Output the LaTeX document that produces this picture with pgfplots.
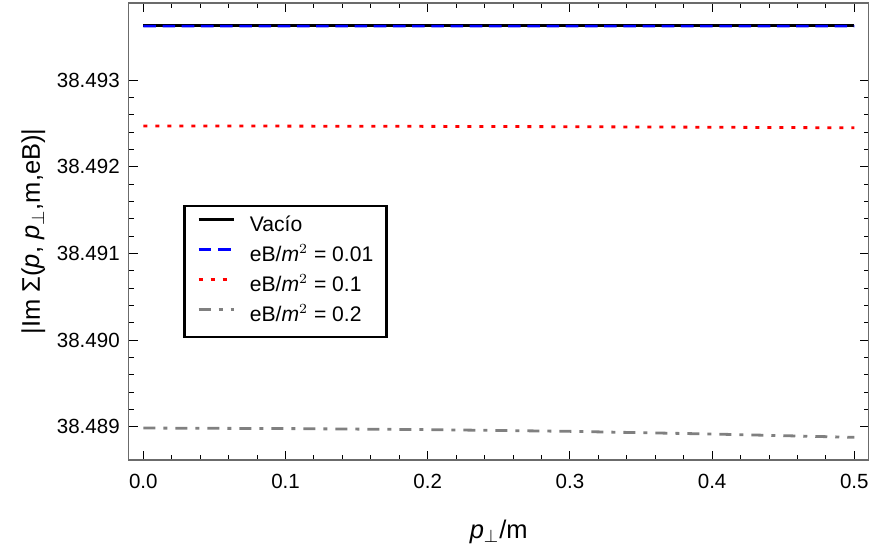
\documentclass[border=0pt]{standalone}
\usepackage{pgfplots}
\pgfplotsset{compat=1.18}
\usepackage{fontspec}
\setmainfont{Liberation Sans}
% All y values share the prefix 38.4; strip it on input so that pgfplots keeps full precision
\makeatletter
\def\mystripy#1{%
  \pgfmathfloatparsenumber{#1}%
  \pgfmathfloattomacro{\pgfmathresult}{\my@F}{\my@M}{\my@E}%
  \expandafter\my@strip\my@M\relax}
\def\my@strip 3.84#1#2\relax{\edef\pgfmathresult{1Y#1.#20e-2]}}
\makeatother
\definecolor{framegray}{gray}{0.42}
\begin{document}
\begin{tikzpicture}
\begin{axis}[
  scale only axis,
  width=370bp, height=228.65bp,
  xmin=-0.0103, xmax=0.5101,
  y coord trafo/.code={\mystripy{#1}},
  ymin=38.488615, ymax=38.493896,
  xtick={0,0.1,0.2,0.3,0.4,0.5},
  xticklabels={0.0,0.1,0.2,0.3,0.4,0.5},
  ytick={38.489,38.490,38.491,38.492,38.493},
  yticklabels={38.489,38.490,38.491,38.492,38.493},
  minor x tick num=4,
  minor y tick num=4,
  tick align=inside,
  major tick length=4.5bp,
  minor tick length=2.5bp,
  every tick/.style={black, line width=0.5bp},
  axis line style={framegray, line width=0.8bp},
  tick label style={font=\fontsize{10.3}{12}\selectfont},
  xticklabel style={anchor=base, yshift=-14.2bp},
  yticklabel style={anchor=east, inner sep=0pt, xshift=-4.3bp},
  label style={font=\fontsize{12.8}{15}\selectfont},
  xlabel={\textit{p}$_{\perp}$/m},
  xlabel style={at={(axis description cs:0.5,0)}, anchor=base, yshift=-39bp},
  ylabel={|Im Σ(\textit{p}, \textit{p}$_{\perp}$,m,eB)|},
  ylabel style={at={(axis description cs:-0.1199,0.5)}, anchor=base},
  legend cell align=left,
  legend style={
    at={(axis description cs:0.0738,0.5576)}, anchor=north west,
    draw=black, line width=1.2bp, fill=white,
    font=\fontsize{10.6}{12}\selectfont,
    row sep=0pt, inner xsep=6.5bp, inner ysep=2.75bp,
    nodes={inner xsep=0pt, inner ysep=1bp, text height=9.1bp, text depth=3.9bp},
    /tikz/every odd column/.append style={column sep=7.5bp},
  },
  legend image code/.code={\draw[#1, line width=1.2bp] (0bp,3.6bp) -- (17.5bp,3.6bp);},
]
\addplot[black, line width=1.3bp] coordinates {
(0,38.493635) (0.1,38.493635) (0.2,38.493635) (0.3,38.493635) (0.4,38.493635) (0.5,38.493635)};
\addlegendentry{Vacío}
\addplot[blue, line width=1.3bp, dash pattern=on 6.3bp off 3.3bp] coordinates {
(0,38.493626) (0.1,38.493626) (0.2,38.493626) (0.3,38.493626) (0.4,38.493626) (0.5,38.493625)};
\addlegendentry{eB/\textit{m}$^{2}$ = 0.01}
\addplot[red, line width=1.4bp, dash pattern=on 2bp off 4bp] coordinates {
(0,38.492472) (0.1,38.492471) (0.2,38.492468) (0.3,38.492464) (0.4,38.492458) (0.5,38.492451)};
\addlegendentry{eB/\textit{m}$^{2}$ = 0.1}
\addplot[gray, line width=1.4bp, dash pattern=on 6bp off 4bp on 2bp off 4bp] coordinates {
(0,38.488984) (0.1,38.488978) (0.2,38.488966) (0.3,38.488946) (0.4,38.488915) (0.5,38.488877)};
\addlegendentry{eB/\textit{m}$^{2}$ = 0.2}
\end{axis}
\pgfresetboundingbox
\path ([xshift=-64.35bp,yshift=-45bp]current axis.south west) rectangle ([xshift=1.65bp,yshift=1.35bp]current axis.north east);
\end{tikzpicture}
\end{document}
